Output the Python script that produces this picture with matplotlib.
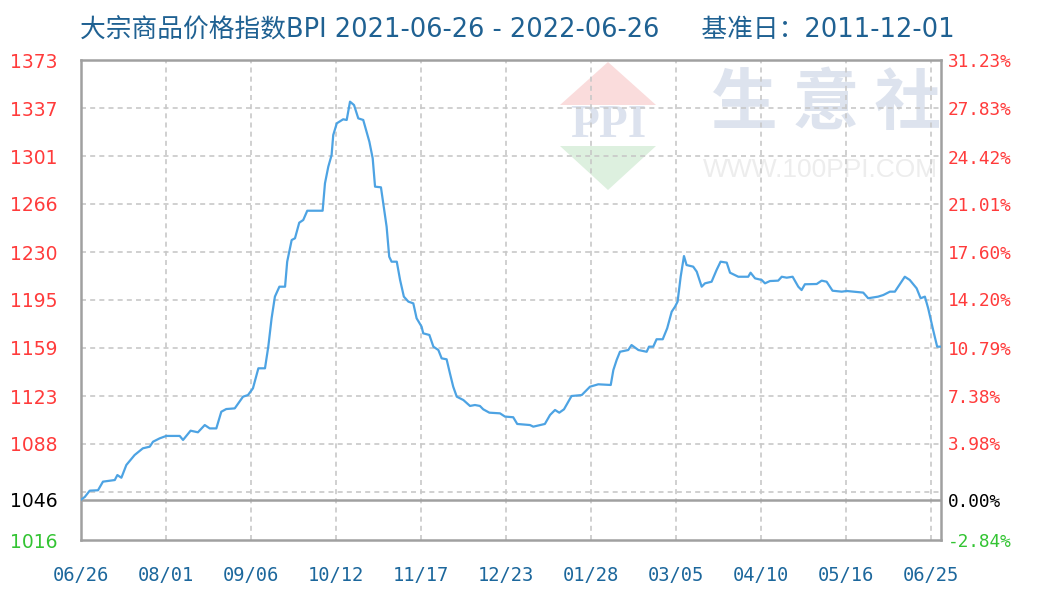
import numpy as np
import matplotlib.pyplot as plt
from matplotlib.patches import Polygon

# BPI 2021-06-26 .. 2022-06-25
# day offset from 2021-06-26
days = [0, 1.6, 3.7, 7.2, 9.3, 14.3, 15.4, 17.1, 19.2, 22.7, 26.2, 29.1, 30.5, 33.3,
        36.1, 41.8, 43.2, 46.4, 49.5, 52.4, 54.5, 57.3, 59.4, 61.5, 65.1, 68.6, 70.7,
        72.8, 75.1, 77.9, 79.3, 80.7, 82.1, 84.0, 86.4, 87.3, 89.2, 90.6, 92.4, 94.1,
        95.8, 102.3, 103.3, 104.7, 106.1, 106.8, 108.3, 111.0, 112.5, 113.9, 115.6,
        117.4, 119.5, 120.7, 122.1, 123.5, 124.5, 127.0, 128.4, 129.4, 130.5, 131.5,
        133.7, 135.1, 136.7, 138.6, 140.7, 142.1, 144.2, 144.9, 147.5, 149.2, 151.3,
        152.7, 154.8, 156.2, 157.6, 159.1, 161.9, 164.7, 166.8, 168.9, 170.3, 172.9,
        177.4, 179.5, 183.0, 184.7, 190.1, 191.5, 196.4, 198.6, 200.7, 202.5, 204.5,
        207.7, 212.0, 213.4, 215.5, 219.0, 224.3, 225.4, 226.8, 228.2, 231.7, 233.1,
        236.0, 239.5, 240.5, 242.3, 243.7, 246.3, 248.2, 250.1, 251.5, 252.6, 253.9,
        255.3, 256.4, 259.2, 260.7, 262.8, 264.2, 267.0, 269.1, 270.8, 273.4, 274.8,
        278.3, 282.5, 283.5, 285.4, 288.2, 289.6, 291.7, 295.2, 296.7, 298.8, 301.3,
        303.7, 305.1, 306.5, 311.5, 313.6, 315.7, 318.2, 322.1, 324.2, 331.2, 333.3,
        337.5, 339.7, 342.5, 344.6, 348.8, 350.9, 353.8, 355.5, 357.3, 358.7, 360.8,
        362.5, 364]
bpi = [1046, 1048, 1052.7, 1053, 1059.4, 1060.6, 1064.3, 1062.3, 1071.8, 1079.2, 1084.2,
       1085.4, 1089.1, 1091.6, 1093.4, 1093.4, 1090.4, 1097.3, 1096.1, 1101.5, 1099, 1099,
       1111.4, 1113.4, 1113.9, 1122.6, 1123.8, 1128.8, 1143.7, 1143.7, 1159.8, 1180.9,
       1197, 1204.4, 1204.4, 1223, 1239.1, 1240.4, 1252, 1254, 1260.9, 1260.9, 1281.3,
       1293.6, 1302.3, 1317.2, 1325.9, 1328.9, 1328.4, 1342, 1339.5, 1329.6, 1328.4,
       1320.9, 1312.2, 1299.9, 1278.8, 1278.3, 1261.4, 1249, 1226.7, 1223, 1223, 1209.4,
       1197, 1193.3, 1192, 1180.9, 1174.7, 1169.7, 1168.5, 1159.8, 1157.3, 1151.1, 1150.4,
       1140, 1130, 1122.6, 1120.1, 1115.7, 1116.4, 1115.7, 1113.2, 1110.7, 1110.2, 1107.8,
       1107.3, 1102.3, 1101.5, 1100.3, 1102.3, 1109, 1112.7, 1110.7, 1113.2, 1123.1,
       1123.8, 1126.3, 1130, 1131.8, 1131.3, 1142.4, 1149.9, 1156, 1157.3, 1161, 1157.3,
       1156, 1159.8, 1159.8, 1165.3, 1165.3, 1173.5, 1185.8, 1189.5, 1193.3, 1211.8,
       1227.2, 1220.5, 1219.3, 1215.6, 1204.4, 1206.9, 1208.1, 1216.8, 1223, 1222.3,
       1214.8, 1211.8, 1211.8, 1214.8, 1210.6, 1209.4, 1206.9, 1208.6, 1208.9, 1211.8,
       1211.1, 1211.8, 1204.4, 1201.9, 1206.2, 1206.4, 1208.9, 1208.1, 1201.4, 1200.7,
       1201.2, 1200, 1195.8, 1197, 1198.2, 1200.7, 1200.7, 1211.8, 1209.4, 1203.2,
       1195.8, 1197, 1188.3, 1172.2, 1159.8, 1159.8]

x_ticks = [0, 36, 72, 108, 144, 180, 216, 252, 288, 324, 360]
x_labels = ["06/26", "08/01", "09/06", "10/12", "11/17", "12/23",
            "01/28", "03/05", "04/10", "05/16", "06/25"]
y_ticks = [1373, 1337, 1301, 1266, 1230, 1195, 1159, 1123, 1088, 1046, 1016]
pct_labels = ["31.23%", "27.83%", "24.42%", "21.01%", "17.60%", "14.20%",
              "10.79%", "7.38%", "3.98%", "0.00%", "-2.84%"]
base = 1046
y_min, y_max = 1016, 1373

RED = '#FF3B3B'
GREEN = '#33C433'
BLUE = '#1C679C'

fig = plt.figure(figsize=(10.4, 6), dpi=100)
ax = fig.add_axes([81 / 1040, 0.1, (940.7 - 81) / 1040, 0.8])
ax.set_xlim(0, 364)
ax.set_ylim(y_min, y_max)

# watermark (logo + site name)
tf = fig.transFigure
def fx(px):
    return px / 1040
def fy(py):
    return 1 - py / 600
ax.add_patch(Polygon([(fx(560), fy(105)), (fx(656), fy(105)), (fx(608), fy(62))],
                     closed=True, transform=tf, color='#FADCDC', zorder=0.2, lw=0))
ax.add_patch(Polygon([(fx(560), fy(146)), (fx(656), fy(146)), (fx(608), fy(190))],
                     closed=True, transform=tf, color='#DDF0DF', zorder=0.2, lw=0))
ax.text(fx(608), fy(126), "PPI", transform=tf, ha='center', va='center',
        fontsize=34, fontweight='bold', family='Liberation Serif', color='#DCE2EE', zorder=0.2)
ax.text(fx(826), fy(105), "生 意 社", transform=tf, ha='center', va='center',
        fontsize=48, fontweight='bold', family=['Noto Sans CJK SC', 'DejaVu Sans'],
        color='#DDE3EE', zorder=0.2)
ax.text(fx(820), fy(170), "WWW.100PPI.COM", transform=tf, ha='center', va='center',
        fontsize=19, family='Liberation Sans', color='#EDEDED', zorder=0.2)

# grid: 10 equal divisions
ax.set_yticks(np.linspace(y_min, y_max, 11)[1:-1], minor=True)
ax.set_xticks(x_ticks)
ax.grid(True, which='minor', axis='y', color='#C8C8C8', ls=(0, (3, 2.5)), lw=1.2)
ax.grid(True, which='major', axis='x', color='#C8C8C8', ls=(0, (3, 2.5)), lw=1.2)
ax.set_axisbelow(True)
ax.tick_params(which='both', length=0)

ax.axhline(base, color='#A0A0A0', lw=1.8, zorder=2)
ax.plot(days, bpi, color='#4DA3E3', lw=1.6, zorder=3)

for s in ax.spines.values():
    s.set_color('#A0A0A0')
    s.set_linewidth(1.8)

ax.set_xticklabels(x_labels, family='DejaVu Sans Mono', fontsize=13.5, color=BLUE)
ax.tick_params(axis='x', pad=19)

def col(v):
    if v > base:
        return RED
    if v < base:
        return GREEN
    return 'black'

ax.set_yticks(y_ticks)
ax.set_yticklabels([str(v) for v in y_ticks], family='DejaVu Sans', fontsize=13.5)
for lab, v in zip(ax.get_yticklabels(), y_ticks):
    lab.set_color(col(v))
ax.tick_params(axis='y', pad=17)

ax2 = ax.twinx()
ax2.set_ylim(y_min, y_max)
ax2.set_yticks(y_ticks)
ax2.set_yticklabels(pct_labels, family='DejaVu Sans Mono', fontsize=12.8)
for lab, v in zip(ax2.get_yticklabels(), y_ticks):
    lab.set_color(col(v))
ax2.tick_params(axis='y', length=0, pad=5)
for s in ax2.spines.values():
    s.set_visible(False)

fig.text(80 / 1040, 1 - 31 / 600,
         "大宗商品价格指数BPI 2021-06-26 - 2022-06-26　  基准日：2011-12-01",
         family=['DejaVu Sans', 'Noto Sans CJK SC'], fontsize=18.5, color='#1F6192',
         ha='left', va='center')

fig.savefig("out.png", dpi=100)
